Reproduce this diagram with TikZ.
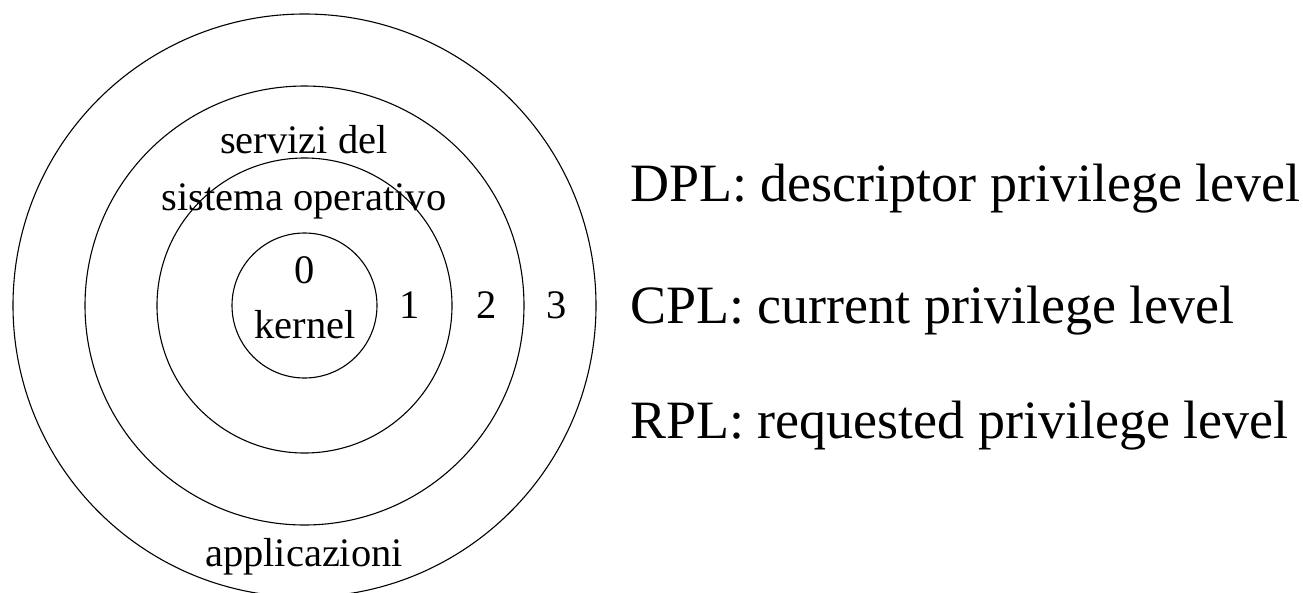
\documentclass[tikz,border=0pt]{standalone}
\usepackage{fontspec}
\setmainfont{Liberation Serif}
\begin{document}
\begin{tikzpicture}[x=1pt,y=-1pt,
  ring/.style={circle,draw,line width=1.1pt,inner sep=0pt,minimum size=#1},
  lbl/.style={anchor=base,inner sep=0pt,font=\fontsize{40.5}{48}\selectfont},
  legend/.style={anchor=base west,inner sep=0pt,font=\fontsize{54}{64}\selectfont}]
\clip (0,0) rectangle (1303,592);
\useasboundingbox (0,0) rectangle (1303,592);
\coordinate (o) at (304.5,305.5);
\node[ring=583pt] (r3) at (o) {};
\node[ring=439pt] (r2) at (o) {};
\node[ring=295pt] (r1) at (o) {};
\node[ring=145pt] (r0) at (o) {};
\node[lbl] (srv1) at (304,153) {servizi del};
\node[lbl] (srv2) at (304,210) {sistema operativo};
\node[lbl] (l0) at (305,283) {0};
\node[lbl] (kern) at (305,338) {kernel};
\node[lbl] (l1) at (410,318) {1};
\node[lbl] (l2) at (487,318) {2};
\node[lbl] (l3) at (557,318) {3};
\node[lbl] (app) at (304,566) {applicazioni};
\node[legend] (dpl) at (630,201) {DPL: descriptor privilege level};
\node[legend] (cpl) at (630,323) {CPL: current privilege level};
\node[legend] (rpl) at (630,438) {RPL: requested privilege level};
\end{tikzpicture}
\end{document}
